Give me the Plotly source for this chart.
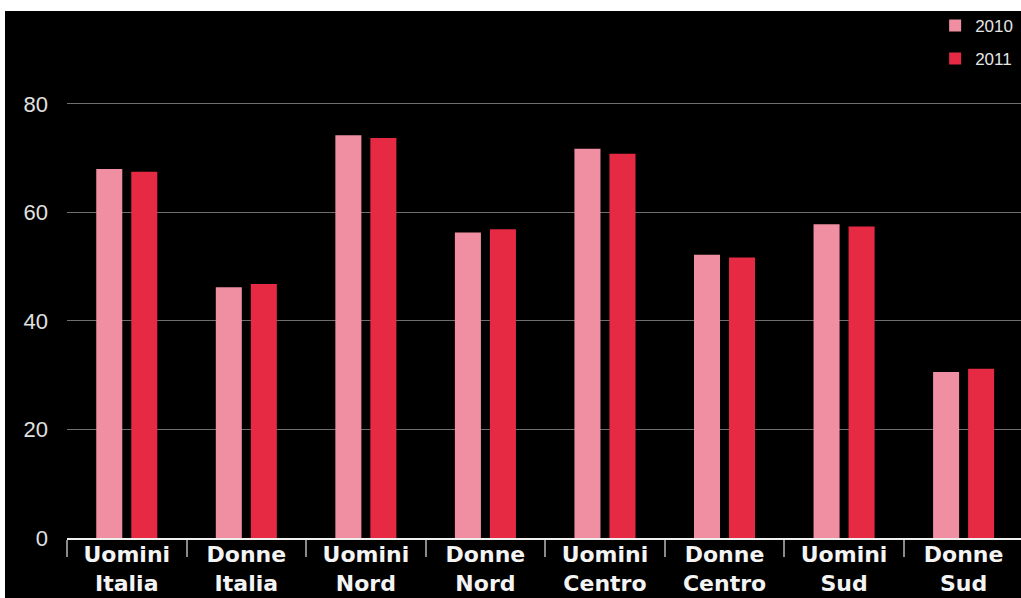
import plotly.graph_objects as go

categories = ["Uomini<br>Italia", "Donne<br>Italia", "Uomini<br>Nord", "Donne<br>Nord",
              "Uomini<br>Centro", "Donne<br>Centro", "Uomini<br>Sud", "Donne<br>Sud"]
values_2010 = [68.0, 46.2, 74.2, 56.3, 71.7, 52.2, 57.8, 30.6]
values_2011 = [67.5, 46.8, 73.7, 56.9, 70.8, 51.7, 57.4, 31.2]
series_names = ["2010", "2011"]
y_ticks = [0, 20, 40, 60, 80]

W, H = 1021, 598
ml, mr, mt, mb = 67, 0, 11, 60
pw, ph = W - ml - mr, H - mt - mb

fig = go.Figure()
fig.add_trace(go.Bar(x=categories, y=values_2010, name=series_names[0],
                     marker=dict(color="#F08FA2", line=dict(width=0)),
                     legendgroup="a"))
fig.add_trace(go.Bar(x=categories, y=values_2011, name=series_names[1],
                     marker=dict(color="#E62A44", line=dict(width=0)),
                     legendgroup="b"))

# white band at top and thin white strip at left
fig.add_shape(type="rect", xref="paper", yref="paper",
              x0=-ml / pw, x1=1.0, y0=1.0, y1=1 + mt / ph,
              fillcolor="white", line=dict(width=0), layer="above")
fig.add_shape(type="rect", xref="paper", yref="paper",
              x0=-ml / pw, x1=-(ml - 5) / pw, y0=-mb / ph, y1=1 + mt / ph,
              fillcolor="white", line=dict(width=0), layer="above")

fig.update_layout(
    width=W, height=H,
    margin=dict(l=ml, r=mr, t=mt, b=mb, pad=0, autoexpand=False),
    paper_bgcolor="black", plot_bgcolor="black",
    barmode="group", bargap=0.414, bargroupgap=0.257,
    font=dict(family="Liberation Sans, Arial, sans-serif", color="#e6e6e6"),
    legend=dict(x=0.997, xanchor="right", y=1.006, yanchor="top",
                bgcolor="rgba(0,0,0,0)", font=dict(size=17, color="#e6e6e6"),
                traceorder="grouped", tracegroupgap=8,
                itemwidth=30),
    showlegend=True,
)
fig.update_xaxes(
    type="category", range=[-0.5, 7.48], automargin=False,
    showgrid=False, showline=True, linecolor="#f0f0f0", linewidth=2,
    ticks="outside", tickson="boundaries", ticklen=17, tickwidth=2, tickcolor="#8a8a8a",
    ticklabelstandoff=-4,
    tickfont=dict(family="DejaVu Sans", size=22, color="#f4f4f4", weight="bold"),
)
fig.update_yaxes(
    range=[0, 97.1], tickvals=y_ticks, ticktext=[str(v) for v in y_ticks],
    automargin=False,
    showgrid=True, gridcolor="#6e6e6e", gridwidth=1,
    zeroline=False, showline=False, ticks="",
    ticklabelstandoff=18,
    tickfont=dict(family="Liberation Sans", size=22, color="#e0e0e0"),
)

fig.write_html("out.html", config={"displayModeBar": False},
               post_script="document.body.style.margin='0';document.body.style.overflow='hidden';")
